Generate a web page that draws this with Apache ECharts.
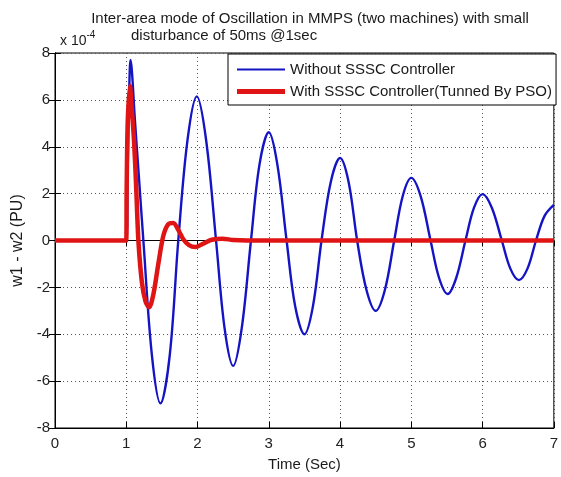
<!DOCTYPE html>
<html>
<head>
<meta charset="utf-8">
<script src="https://cdn.jsdelivr.net/npm/echarts@6/dist/echarts.min.js"></script>
<style>
html,body{margin:0;padding:0;background:#fff;}
#chart{width:561px;height:477px;}
</style>
</head>
<body>
<div id="chart"></div>
<script>
// ---- data (values in units of 1e-4 PU) ----
var titleLine1 = 'Inter-area mode of Oscillation in MMPS (two machines) with small';
var titleLine2 = 'disturbance of 50ms @1sec';
var xName = 'Time (Sec)';
var yName = 'w1 - w2 (PU)';
var seriesNames = ['Without SSSC Controller', 'With SSSC Controller(Tunned By PSO)'];
var xTicks = [0, 1, 2, 3, 4, 5, 6, 7];
var yTicks = [-8, -6, -4, -2, 0, 2, 4, 6, 8];

var blueT = [0, 0.5, 1.0, 1.02, 1.04, 1.06, 1.08, 1.12, 1.18, 1.24,
  1.36, 1.48, 1.61, 1.73, 1.86, 1.99, 2.12, 2.26,
  2.38, 2.5, 2.62, 2.75, 2.87, 3.0, 3.12, 3.25,
  3.37, 3.5, 3.62, 3.74, 3.87, 4.0, 4.12, 4.24,
  4.37, 4.5, 4.63, 4.76, 4.88, 5.0, 5.13, 5.27,
  5.39, 5.51, 5.63, 5.76, 5.88, 6.0, 6.13, 6.27,
  6.39, 6.51, 6.63, 6.75, 6.87, 7.0];
var blueV = [0, 0, 0, 3.0, 6.2, 7.7, 7.2, 5.2, 2.6, 0,
  -4.9, -6.95, -4.9, 0, 4.3, 6.15, 4.3, 0,
  -3.75, -5.35, -3.75, 0, 3.25, 4.62, 3.25, 0,
  -2.8, -4.0, -2.8, 0, 2.5, 3.52, 2.5, 0,
  -2.1, -3.0, -2.1, 0, 1.9, 2.67, 1.9, 0,
  -1.6, -2.28, -1.6, 0, 1.4, 1.98, 1.4, 0,
  -1.2, -1.69, -1.2, 0, 1.05, 1.52];

var redT = [0, 0.5, 1.0, 1.005, 1.02, 1.05, 1.08, 1.11, 1.14, 1.17,
  1.22, 1.27, 1.32, 1.38, 1.45, 1.52, 1.59, 1.66, 1.73, 1.8,
  1.88, 1.97, 2.07, 2.2, 2.35, 2.5, 2.7, 7.0];
var redV = [0, 0, 0, 2.0, 5.0, 6.6, 5.5, 4.2, 2.2, 0,
  -1.8, -2.6, -2.85, -2.3, -1.0, 0.2, 0.7, 0.75, 0.45, 0.05,
  -0.2, -0.28, -0.15, 0.03, 0.08, 0.02, 0, 0];

function zip(a, b) { return a.map(function (t, i) { return [t, b[i]]; }); }

var chart = echarts.init(document.getElementById('chart'), null, {renderer: 'canvas'});
var FONT = '"Liberation Sans", Arial, sans-serif';
var gridLine = {show: true, lineStyle: {color: '#555', width: 1, type: [1, 3]}};

var option = {
  animation: false,
  backgroundColor: '#fff',
  title: [
    {text: titleLine1, left: 305, top: 6, textAlign: 'center',
      textStyle: {fontFamily: FONT, fontSize: 15, fontWeight: 'normal', color: '#1a1a1a'}},
    {text: titleLine2, left: 126, top: 23,
      textStyle: {fontFamily: FONT, fontSize: 15, fontWeight: 'normal', color: '#1a1a1a'}},
    {text: '{a|x 10}{b|-4}', left: 55, top: 25,
      textStyle: {fontWeight: 'normal', rich: {
        a: {fontFamily: FONT, fontSize: 14, fontWeight: 'normal', color: '#1a1a1a', verticalAlign: 'bottom'},
        b: {fontFamily: FONT, fontSize: 10, fontWeight: 'normal', color: '#1a1a1a', verticalAlign: 'top', padding: [0, 0, 8, 0]}
      }}}
  ],
  grid: {left: 55, right: 4, top: 53, bottom: 44, show: true, borderColor: '#000', borderWidth: 1},
  legend: {
    orient: 'vertical', left: 228, top: 54,
    backgroundColor: '#fff', borderColor: '#000', borderWidth: 1, borderRadius: 0,
    padding: [8, 4, 6, 9], itemGap: 7, itemWidth: 48, itemHeight: 5,
    textStyle: {fontFamily: FONT, fontSize: 15, color: '#1a1a1a'},
    data: [
      {name: seriesNames[0], icon: 'path://M0,0H48V2H0Z', itemStyle: {color: '#1414c4'}},
      {name: seriesNames[1], icon: 'rect', itemStyle: {color: '#e01414'}}
    ]
  },
  xAxis: [
    {type: 'value', min: 0, max: 7, interval: 1, name: xName, nameLocation: 'middle', nameGap: 29,
      nameTextStyle: {fontFamily: FONT, fontSize: 15, color: '#1a1a1a', verticalAlign: 'top'},
      axisLine: {show: true, onZero: false, lineStyle: {color: '#000', width: 1}},
      axisTick: {show: true, inside: true, length: 6, lineStyle: {color: '#000'}},
      axisLabel: {fontFamily: FONT, fontSize: 15, color: '#222', margin: 8,
        formatter: function (v) { return xTicks.indexOf(v) >= 0 ? String(v) : ''; }},
      splitLine: gridLine},
    {type: 'value', position: 'top', min: 0, max: 7, interval: 1,
      axisLine: {show: true, lineStyle: {color: '#000', width: 1}},
      axisTick: {show: true, inside: true, length: 6, lineStyle: {color: '#000'}},
      axisLabel: {show: false}, splitLine: {show: false}}
  ],
  yAxis: [
    {type: 'value', min: -8, max: 8, interval: 2, name: yName, nameLocation: 'middle', nameGap: 14,
      nameTextStyle: {fontFamily: FONT, fontSize: 16, color: '#1a1a1a'},
      axisLine: {show: true, onZero: false, lineStyle: {color: '#000', width: 1}},
      axisTick: {show: true, inside: true, length: 6, lineStyle: {color: '#000'}},
      axisLabel: {fontFamily: FONT, fontSize: 15, color: '#222', margin: 5,
        formatter: function (v) { return yTicks.indexOf(v) >= 0 ? String(v) : ''; }},
      splitLine: gridLine},
    {type: 'value', position: 'right', min: -8, max: 8, interval: 2,
      axisLine: {show: true, lineStyle: {color: '#000', width: 1}},
      axisTick: {show: true, inside: true, length: 6, lineStyle: {color: '#000'}},
      axisLabel: {show: false}, splitLine: {show: false}}
  ],
  series: [
    {name: seriesNames[0], type: 'line', data: zip(blueT, blueV), showSymbol: false, symbol: 'none',
      smooth: 0.35, lineStyle: {color: '#1414c4', width: 2.4}, itemStyle: {color: '#1414c4'}, z: 2},
    {name: seriesNames[1], type: 'line', data: zip(redT, redV), showSymbol: false, symbol: 'none',
      smooth: 0.3, lineStyle: {color: '#e01414', width: 4.5}, itemStyle: {color: '#e01414'}, z: 3}
  ]
};
chart.setOption(option);
</script>
</body>
</html>
